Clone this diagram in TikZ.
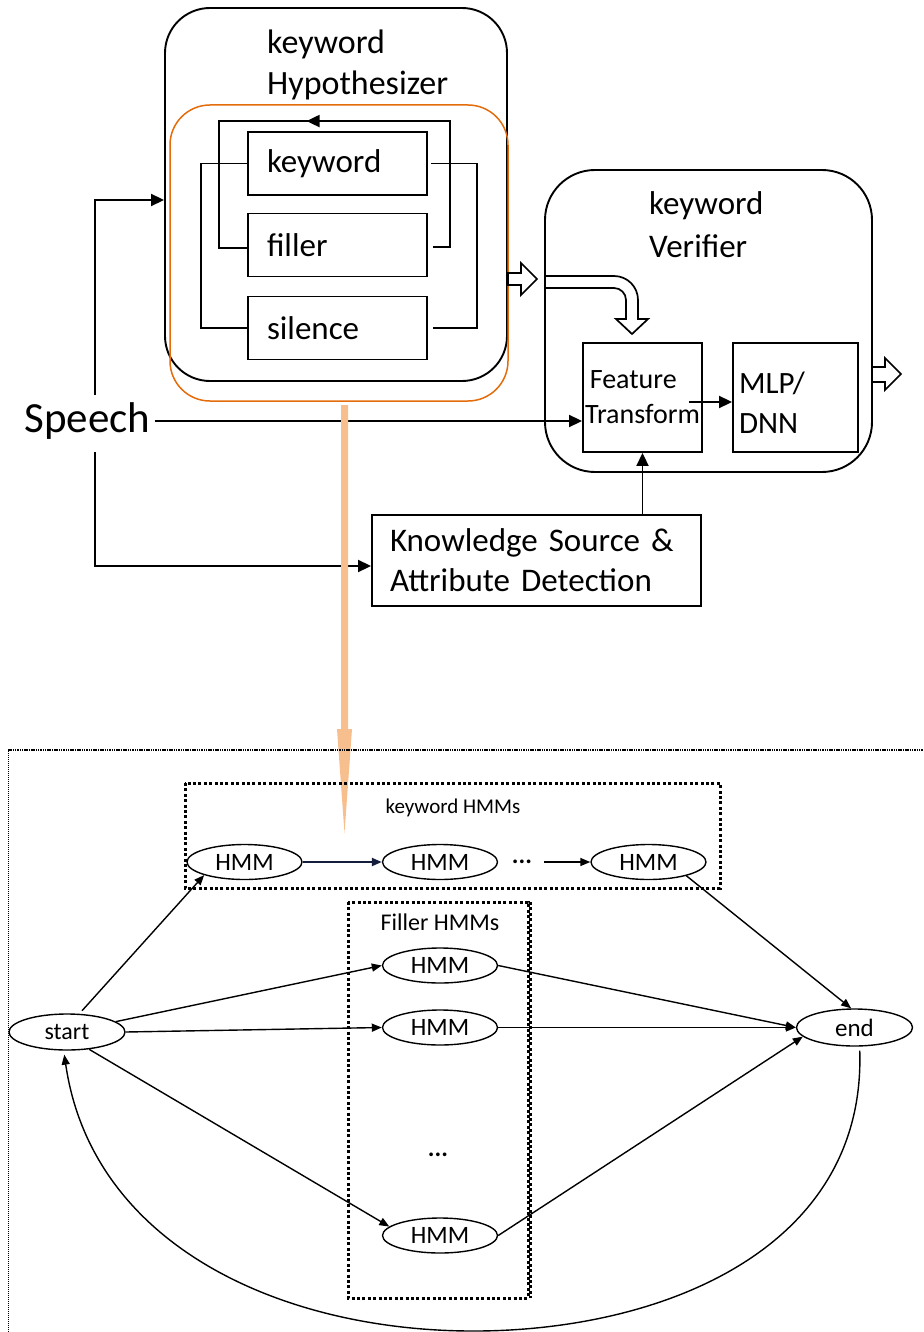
\documentclass[tikz,border=0pt]{standalone}
\usepackage{fontspec}
\setmainfont{Carlito}
\usetikzlibrary{arrows.meta,shapes.geometric,calc}

\definecolor{hypo}{RGB}{228,108,10}
\definecolor{flow}{RGB}{248,191,142}

\newcommand{\fs}[1]{\fontsize{#1}{#1}\selectfont}

\tikzset{
  x=1pt, y=-1pt,
  thick line/.style={line width=1.9pt},
  arr/.style={thick line, -{Triangle[length=13pt,width=12pt]}},
  rbox/.style={draw, thick line, rectangle},
  unit/.style={draw, thick line, rectangle, minimum width=179pt, minimum height=63pt,
               inner xsep=19pt, text width=141pt, align=left, font=\fs{33}},
  hollow/.style={draw=black, fill=white, line width=1.7pt, line join=miter},
  thin line/.style={line width=1.4pt},
  tarr/.style={thin line, -{Triangle[length=10pt,width=8pt]}},
  hmm/.style={draw, thin line, ellipse, minimum width=115pt, minimum height=35pt,
              inner sep=0pt, font=\fs{25}},
  group/.style={line width=3pt, dash pattern=on 3pt off 2.4pt},
  frame/.style={line width=1pt, dash pattern=on 1pt off 1pt},
}

\begin{document}
\begin{tikzpicture}
\useasboundingbox (0,0) rectangle (923,1332);

% ---------------- keyword hypothesizer ----------------
\node[rbox, rounded corners=45pt, minimum width=342pt, minimum height=373pt] (hyp) at (336,194.5) {};
\node[anchor=base west, font=\fs{34}, inner sep=0pt] (hyp1) at (267,54) {keyword};
\node[anchor=base west, font=\fs{34}, inner sep=0pt] (hyp2) at (267,95) {Hypothesizer};
\node[draw=hypo, line width=1.5pt, rectangle, rounded corners=40pt,
      minimum width=338pt, minimum height=296pt] (net) at (339,253) {};

\node[unit] (kw)  at (337.5,163.5) {keyword};
\node[unit] (fil) at (337.5,245)   {filler};
\node[unit] (sil) at (337.5,328)   {silence};

% loops between the units
\draw[thick line] ($(kw.east)+(3,0)$) -| ($(sil.east)+(49,0)$) -- ($(sil.east)+(5,0)$);
\draw[thick line] (kw.west) -| ($(sil.west)+(-46,0)$) -- (sil.west);
\draw[thick line] ($(fil.east)+(5,2)$) -| ($(kw.north east)+(22,-10)$)
      -- ($(kw.north west)+(-28,-10)$) |- ($(fil.west)+(0,3)$);
\draw[arr] ($(kw.north)+(42,-10)$) -- ($(kw.north)+(-31,-10)$);

% block arrow leaving the hypothesizer
\draw[hollow] (508,273) -- (521,273) -- (521,263) -- (537,279) -- (521,295)
      -- (521,285) -- (508,285) -- cycle;

% ---------------- keyword verifier ----------------
\node[rbox, rounded corners=50pt, minimum width=327pt, minimum height=302pt] (ver) at (708.5,321) {};
\node[anchor=base west, font=\fs{33}, inner sep=0pt] (ver1) at (649,215) {keyword};
\node[anchor=base west, font=\fs{33}, inner sep=0pt] (ver2) at (649,258) {Verifier};

\node[rbox, minimum width=119pt, minimum height=109pt, align=left, inner sep=1pt,
      font=\fontsize{28}{35}\selectfont] (fx) at (642.5,397.5) {\,Feature\\Transform};
\node[rbox, minimum width=125pt, minimum height=109pt, inner xsep=6pt, text width=113pt,
      align=left, font=\fontsize{31}{40}\selectfont] (mlp) at (795.5,397.5) {\raisebox{0pt}[31pt][0pt]{}MLP/\\DNN};

% bent block arrow into the feature transform
\draw[hollow] (545,276) -- (614,276) .. controls (627.3,276) and (638,286.7) .. (638,300)
      -- (638,319) -- (648,319) -- (632,334) -- (616,319) -- (626,319) -- (626,300)
      .. controls (626,293.4) and (620.6,288) .. (614,288) -- (545,288) -- cycle;

\draw[arr] ($(fx.east)+(-14,4.5)$) -- ($(mlp.west)+(0,4.5)$);

% block arrow leaving the verifier
\draw[hollow] (872,367) -- (885,367) -- (885,358) -- (901,374) -- (885,390)
      -- (885,382) -- (872,382) -- cycle;

% ---------------- speech input ----------------
\node[font=\fs{43}, inner sep=0pt] (speech) at (87.5,421) {Speech};
\node[rbox, minimum width=329pt, minimum height=91pt, inner xsep=18pt, text width=293pt,
      align=left, font=\fontsize{33}{40}\selectfont] (kas) at (536.5,560.5)
      {Knowledge Source \&\\Attribute Detection};

\coordinate (vtop) at (95,395);
\coordinate (vbot) at (95,452);
\draw[arr] (vtop) |- ($(hyp.west)+(0,5.5)$);
\draw[arr] ($(speech.east)+(4,0)$) -- (speech.east -| fx.west);
\draw[arr] (vbot) |- ($(kas.west)+(0,5.5)$);
\draw[arr] (fx.south |- kas.north) -- (fx.south);

% expansion of the hypothesizer network
\draw[draw=none, fill=flow] (341,405) -- (348,405) -- (348,729) -- (352,729)
      -- (344.5,833) -- (337,729) -- (341,729) -- cycle;

% ---------------- decoding network ----------------
\draw[frame] (8,1332) -- (8,750);
\draw[line width=1.5pt, dash pattern=on 1.5pt off 0.8pt] (8,750) -- (923,750);

\draw[group] (185,783) rectangle (720,888);
\node[font=\fs{21}] (khmm) at (453,808) {keyword HMMs};
\draw[group] (348,902) rectangle (528,1298);
\draw[group] (530,902) -- (530,1298);
\node[font=\fs{24}] (fhmm) at (440,922) {Filler HMMs};

\node[hmm] (k1) at (244.5,862) {HMM};
\node[hmm] (k2) at (440,862)   {HMM};
\node[font=\bfseries\fs{25}, inner sep=0pt] (kdots) at (522,862) {...};
\node[hmm] (k3) at (648.5,862) {HMM};

\node[hmm] (f1) at (440,965.5)  {HMM};
\node[hmm] (f2) at (440,1027.5) {HMM};
\node[font=\bfseries\fs{25}, inner sep=0pt] (fdots) at (438,1155) {...};
\node[hmm] (f3) at (440,1235.5) {HMM};

\node[hmm, minimum width=116pt, minimum height=36pt, font=\fs{24}] (start) at (67,1032) {start};
\node[hmm, minimum width=116pt, minimum height=37pt] (end) at (854.5,1027.5) {end};

\draw[line width=2.2pt, draw={rgb,255:red,20;green,30;blue,60}, -{Triangle[length=10pt,width=8pt]}] (k1.east) -- (k2.west);
\draw[tarr] ($(kdots.east)+(12,0)$) -- (k3.west);

\draw[tarr, shorten <=4pt] (start.56) -- (k1.198);
\draw[tarr] (start.12) -- (f1.west);
\draw[tarr] (start.east) -- (f2.west);
\draw[tarr] (start.-38) -- (f3.170);
\draw[tarr] (f1.east) -- (end.west);
\draw[tarr] (f2.east) -- (end.west);
\draw[tarr] (f3.east) -- (end.190);
\draw[tarr] (k3.-20) -- (end.100);
\draw[tarr, shorten <=4pt, shorten >=4pt] (end.-75) .. controls (866,1250) and (660,1332) .. (470,1331)
      .. controls (280,1330) and (92,1245) .. (start.-100);
\end{tikzpicture}
\end{document}
